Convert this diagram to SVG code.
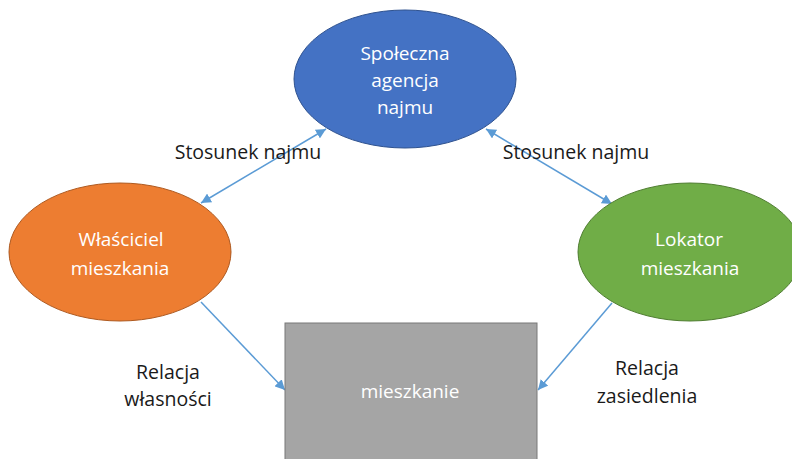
<svg xmlns="http://www.w3.org/2000/svg" width="792" height="459" viewBox="0 0 792 459">
<style>
.nt{font-family:"Open Sans","Liberation Sans",sans-serif;font-size:19px;fill:#ffffff;text-anchor:middle}
.lb{font-family:"Open Sans","Liberation Sans",sans-serif;font-size:19.5px;fill:#1a1a1a;text-anchor:middle}
.cn{stroke:#5B9BD5;stroke-width:1.5;fill:none}
</style>
<defs>
<marker id="ah" viewBox="0 0 10 10" refX="10" refY="5" markerWidth="10" markerHeight="10" markerUnits="userSpaceOnUse" orient="auto-start-reverse">
<path d="M0,0 L10,5 L0,10 z" fill="#5B9BD5"/>
</marker>
</defs>
<rect width="792" height="459" fill="#ffffff"/>
<g id="connectors">
<line class="cn" x1="201" y1="203" x2="326" y2="129" marker-start="url(#ah)" marker-end="url(#ah)"/>
<line class="cn" x1="486" y1="129" x2="612" y2="204" marker-start="url(#ah)" marker-end="url(#ah)"/>
<line class="cn" x1="201" y1="302" x2="285" y2="390" marker-end="url(#ah)"/>
<line class="cn" x1="612" y1="303" x2="538" y2="390" marker-end="url(#ah)"/>
</g>
<g id="agencja">
<ellipse cx="405" cy="79" rx="111" ry="69" fill="#4472C4" stroke="#2F528F" stroke-width="1"/>
<text class="nt" x="405" y="60">Społeczna</text>
<text class="nt" x="405" y="87">agencja</text>
<text class="nt" x="405" y="114">najmu</text>
</g>
<g id="wlasciciel">
<ellipse cx="120" cy="252" rx="111" ry="69" fill="#ED7D31" stroke="#AE5A21" stroke-width="1"/>
<text class="nt" x="121" y="246">Właściciel</text>
<text class="nt" x="120" y="275">mieszkania</text>
</g>
<g id="lokator">
<ellipse cx="690" cy="252" rx="112" ry="69" fill="#70AD47" stroke="#507E32" stroke-width="1"/>
<text class="nt" x="689" y="246">Lokator</text>
<text class="nt" x="690" y="275">mieszkania</text>
</g>
<g id="mieszkanie">
<rect x="285" y="323" width="252" height="140" fill="#A5A5A5" stroke="#787878" stroke-width="1"/>
<text class="nt" x="410" y="398">mieszkanie</text>
</g>
<g id="labels">
<text class="lb" x="248" y="159">Stosunek najmu</text>
<text class="lb" x="576" y="159">Stosunek najmu</text>
<text class="lb" x="168" y="379">Relacja</text>
<text class="lb" x="168" y="406">własności</text>
<text class="lb" x="647" y="375">Relacja</text>
<text class="lb" x="647" y="403">zasiedlenia</text>
</g>
</svg>
